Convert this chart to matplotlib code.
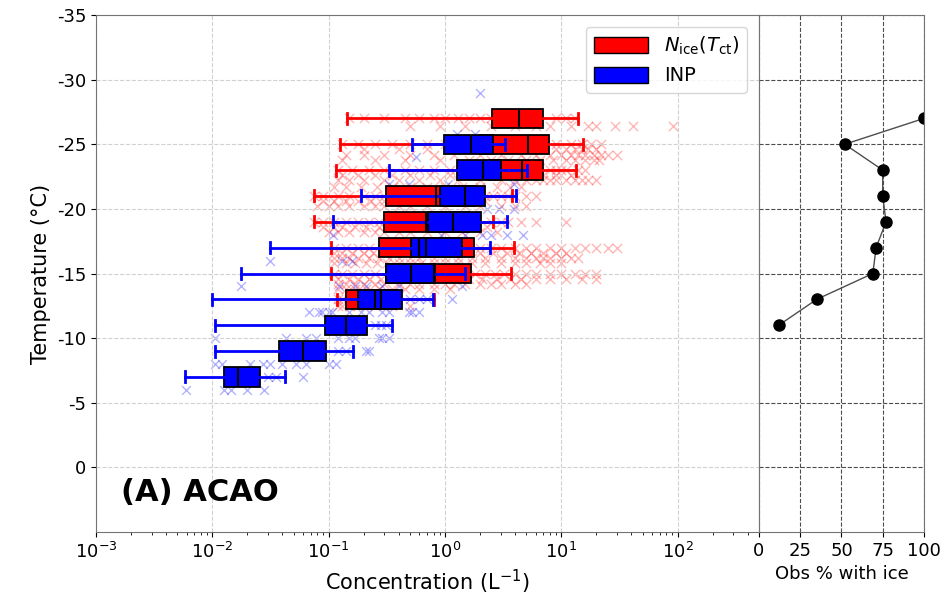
import matplotlib
matplotlib.use("Agg")
import matplotlib.pyplot as plt
from matplotlib.patches import Patch

plt.rcParams['axes.unicode_minus'] = False
plt.rcParams['font.family'] = ['DejaVu Sans']

# -- box statistics (concentration, L^-1) ------------------------------------
ice_T = [-27, -25, -23, -21, -19, -17, -15, -13]
ice_wlo = [0.143, 0.125, 0.116, 0.075, 0.075, 0.105, 0.105, 0.118]
ice_q1 = [2.54, 2.0, 2.4, 0.312, 0.298, 0.27, 0.312, 0.142]
ice_med = [4.35, 5.2, 4.6, 0.84, 0.68, 0.6, 0.8, 0.25]
ice_q3 = [7.0, 7.8, 7.0, 1.8, 1.6, 1.78, 1.68, 0.38]
ice_whi = [13.8, 15.4, 13.5, 3.74, 2.6, 3.9, 3.7, 0.8]

inp_T = [-25, -23, -21, -19, -17, -15, -13, -11, -9, -7]
inp_wlo = [0.52, 0.33, 0.188, 0.108, 0.031, 0.0177, 0.0100, 0.0106, 0.0106, 0.00586]
inp_q1 = [0.98, 1.27, 0.9, 0.71, 0.51, 0.312, 0.18, 0.093, 0.0376, 0.0127]
inp_med = [1.67, 2.11, 1.49, 1.17, 0.68, 0.51, 0.28, 0.14, 0.0596, 0.0165]
inp_q3 = [2.6, 3.03, 2.2, 2.05, 1.40, 0.82, 0.43, 0.214, 0.0944, 0.0259]
inp_whi = [3.25, 5.1, 4.04, 3.43, 2.44, 1.48, 0.79, 0.35, 0.162, 0.0424]

# -- raw points (temperature level, concentrations) --------------------------
ice_pts = [
    (-27.0, [0.15, 0.2, 0.3, 0.45, 0.6, 0.8, 1.0, 1.3, 1.6, 2.0, 2.5, 9, 11, 13]),
    (-26.4, [0.5, 0.9, 1.5, 2.5, 4, 6, 8, 12, 17, 20, 29, 41, 91]),
    (-25.0, [0.13, 0.18, 0.25, 0.35, 0.5, 0.7, 1.0, 1.4, 2, 3, 9, 12, 15, 18, 22]),
    (-24.6, [0.2, 0.4, 0.7, 1.1, 1.8, 2.8, 4, 5.5, 7, 9, 11, 13, 15, 17, 20]),
    (-24.2, [0.14, 0.2, 0.3, 0.5, 0.8, 1.2, 2, 3, 4.5, 6, 8, 10, 12, 14, 16, 19, 22, 25, 30]),
    (-23.8, [0.13, 0.25, 0.45, 0.9, 1.6, 2.5, 3.5, 5, 6.5, 8.5, 11, 13, 16, 19, 21]),
    (-23.0, [0.12, 0.16, 0.22, 0.3, 0.45, 0.6, 0.8, 1.1, 8, 9, 10, 11, 14, 16]),
    (-22.6, [0.13, 0.18, 0.25, 0.35, 0.5, 0.75, 1.1, 1.7, 2.5, 3.5, 4.5, 5.5, 7, 9, 12]),
    (-22.2, [0.12, 0.15, 0.2, 0.3, 0.4, 0.6, 0.9, 1.3, 2, 3, 4, 5, 6, 7, 8, 9, 11, 13, 15, 17, 20]),
    (-21.7, [0.11, 0.14, 0.19, 0.26, 0.36, 0.5, 0.7, 1.0, 1.4, 2, 2.8, 3.6, 4.5]),
    (-21.0, [0.075, 0.09, 0.12, 0.15, 0.2, 0.25, 0.3, 2.2, 2.6, 3, 3.5, 4, 5, 6]),
    (-20.6, [0.09, 0.11, 0.14, 0.18, 0.23, 0.3, 0.38, 0.5, 0.65, 0.9, 1.2, 1.6, 2.2]),
    (-20.2, [0.08, 0.1, 0.12, 0.15, 0.2, 0.25, 0.3, 0.4, 0.5, 0.7, 1, 1.5, 2, 3, 4, 5]),
    (-19.0, [0.075, 0.09, 0.11, 0.14, 0.18, 0.22, 0.27, 2.5, 3, 3.5, 4.5, 6, 11]),
    (-18.6, [0.09, 0.11, 0.13, 0.17, 0.21, 0.27, 0.35, 0.45, 0.6, 0.8, 1.1, 1.6, 2.3]),
    (-18.2, [0.1, 0.12, 0.15, 0.2, 0.25, 0.3, 0.4, 0.5, 0.7, 1, 1.4, 2, 2.8]),
    (-17.0, [0.11, 0.14, 0.18, 0.22, 2, 2.5, 3, 4, 5, 6, 8, 10, 13, 16, 20, 25, 30]),
    (-16.6, [0.11, 0.13, 0.16, 0.2, 0.24, 0.3, 0.37, 0.45, 0.55, 0.7, 0.9, 1.2, 1.5, 2, 2.6,
             3.4, 4.3, 5.5, 7, 9, 11]),
    (-16.2, [0.11, 0.13, 0.15, 0.18, 0.22, 0.27, 0.33, 0.4, 0.5, 0.6, 0.8, 1, 1.3, 1.7,
             2.2, 3, 4, 5, 6, 7, 8, 10, 12, 14]),
    (-15.8, [0.11, 0.14, 0.17, 0.21, 0.26, 0.32, 0.4, 0.5, 0.62, 0.8, 1.0, 1.3, 1.7, 2.2,
             3, 4, 5, 6.5, 8, 10]),
    (-15.0, [0.11, 0.13, 0.16, 0.2, 0.25, 1.8, 2.2, 2.7, 3.2, 4, 5, 6, 8, 10, 13, 16, 20]),
    (-14.6, [0.12, 0.15, 0.18, 0.22, 0.28, 0.35, 0.45, 0.6, 0.75, 0.95, 1.2, 1.6, 2.1, 2.8,
             3.6, 4.5, 6, 8, 11, 15, 20]),
    (-14.2, [0.12, 0.14, 0.17, 0.2, 0.25, 0.3, 0.4, 0.5, 0.6, 0.8, 1, 1.2, 1.5, 2, 2.5, 3, 4, 5]),
    (-13.8, [0.12, 0.14, 0.17, 0.21, 0.27, 0.35, 0.45, 0.6, 0.8, 1.1]),
    (-13.0, [0.12, 0.13, 0.15]),
    (-12.5, [0.12, 0.13, 0.15, 0.18, 0.25, 0.35, 0.5]),
]
inp_pts = [
    (-29.0, [2.0]),
    (-25.8, [1.28, 1.8]),
    (-24.0, [0.56]),
    (-21.9, [0.33, 0.49, 1.07, 3.9]),
    (-20.0, [2.3, 2.9, 3.9]),
    (-18.0, [0.108, 0.93, 1.5, 2.1, 2.5, 3.4, 4.7]),
    (-16.0, [0.031, 0.13, 0.16]),
    (-14.0, [0.0177, 0.122, 0.17, 0.21, 0.29, 0.40, 1.4]),
    (-13.0, [0.5, 0.6, 0.7, 1.14]),
    (-12.0, [0.068, 0.083, 0.088, 0.1, 0.107, 0.15, 0.19, 0.22, 0.29, 0.33, 0.49, 0.52, 0.6]),
    (-11.0, [0.25, 0.28, 0.31]),
    (-10.0, [0.0106, 0.043, 0.064, 0.078, 0.12, 0.15, 0.17, 0.27, 0.29, 0.33]),
    (-9.0, [0.12, 0.14, 0.21, 0.22]),
    (-8.0, [0.0106, 0.012, 0.021, 0.027, 0.031, 0.04, 0.052, 0.064, 0.1, 0.115]),
    (-7.0, [0.03, 0.035, 0.06]),
    (-6.0, [0.0059, 0.0127, 0.0145, 0.02, 0.028]),
]

# -- fraction of observations with ice ---------------------------------------
frac_T = [-27, -25, -23, -21, -19, -17, -15, -13, -11]
frac_pct = [100, 52, 75, 75, 77, 71, 69, 35, 12]


def make_stats(wlo, q1, med, q3, whi):
    return [dict(whislo=a, q1=b, med=c, q3=d, whishi=e, fliers=[])
            for a, b, c, d, e in zip(wlo, q1, med, q3, whi)]


fig = plt.figure(figsize=(9.5, 5.96), dpi=100)
ax = fig.add_axes([0.1011, 0.1074, 0.6978, 0.8674])
ax2 = fig.add_axes([0.7989, 0.1074, 0.1737, 0.8674], sharey=ax)

for spine_ax in (ax, ax2):
    for s in spine_ax.spines.values():
        s.set_color('0.45')

# raw data clouds
for t, xs in ice_pts:
    ax.scatter(xs, [t] * len(xs), marker='x', s=45, color='red', alpha=0.28, lw=1, zorder=1)
for t, xs in inp_pts:
    ax.scatter(xs, [t] * len(xs), marker='x', s=40, color='blue', alpha=0.3, lw=1, zorder=1)

# boxes
for stats, pos, col in [(make_stats(ice_wlo, ice_q1, ice_med, ice_q3, ice_whi), ice_T, 'red'),
                        (make_stats(inp_wlo, inp_q1, inp_med, inp_q3, inp_whi), inp_T, 'blue')]:
    ax.bxp(stats, positions=pos, widths=1.5, capwidths=0.85, orientation='horizontal',
           patch_artist=True, showfliers=False, manage_ticks=False,
           boxprops=dict(facecolor=col, edgecolor='black', linewidth=1.3),
           whiskerprops=dict(color=col, linewidth=2),
           capprops=dict(color=col, linewidth=2),
           medianprops=dict(color='black', linewidth=1.5, zorder=5))

ax.set_xscale('log')
ax.set_xlim(1e-3, 5e2)
ax.set_ylim(5, -35)
ax.set_yticks(range(-35, 1, 5))
ax.grid(True, which='major', ls='--', color='0.82', lw=0.8)
ax.tick_params(labelsize=13)
ax.set_xlabel('Concentration (L$^{-1}$)', fontsize=15)
ax.set_ylabel('Temperature (°C)', fontsize=15)
ax.text(0.038, 0.06, '(A) ACAO', transform=ax.transAxes, fontsize=22,
        fontweight='bold', va='baseline')
ax.legend(handles=[Patch(facecolor='red', edgecolor='black', label=r'$N_{\rm ice}(T_{\rm ct})$'),
                   Patch(facecolor='blue', edgecolor='black', label='INP')],
          loc='upper right', fontsize=14, handlelength=2.8, handleheight=0.9,
          borderaxespad=0.6)

# right panel
ax2.plot(frac_pct, frac_T, '-', color='0.3', lw=1)
ax2.plot(frac_pct, frac_T, 'o', color='black', ms=8)
ax2.set_xlim(0, 100)
ax2.set_xticks([0, 25, 50, 75, 100])
ax2.grid(True, ls='--', color='black', lw=0.8, alpha=0.7)
ax2.tick_params(axis='y', left=False, labelleft=False)
ax2.tick_params(labelsize=13)
ax2.set_xlabel('Obs % with ice', fontsize=13)

fig.savefig('out.png', dpi=100)
